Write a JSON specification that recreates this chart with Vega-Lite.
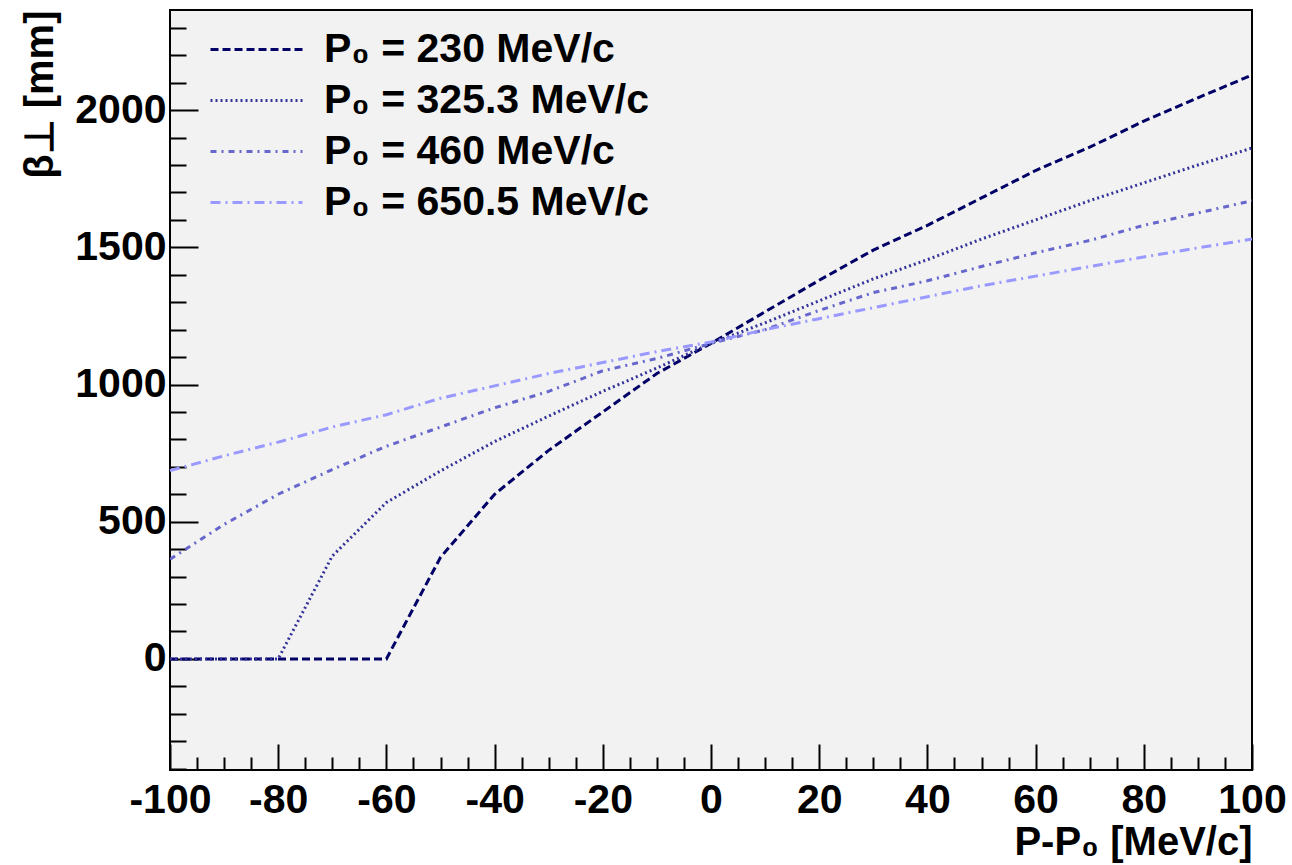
{
  "$schema": "https://vega.github.io/schema/vega-lite/v6.json",
  "autosize": {"type": "none"},
  "width": 1082,
  "height": 760,
  "padding": {"left": 170, "top": 10, "right": 40, "bottom": 95},
  "background": "white",
  "config": {
    "view": {"fill": "#f2f2f2", "stroke": "#000000", "strokeWidth": 2},
    "font": "Liberation Sans",
    "axis": {
      "domain": false, "grid": false,
      "tickColor": "#000000", "tickWidth": 2,
      "labelFont": "Liberation Sans", "labelFontWeight": "bold", "labelFontSize": 41, "labelColor": "#000000",
      "titleFont": "Liberation Sans", "titleFontWeight": "bold", "titleFontSize": 40, "titleColor": "#000000"
    },
    "legend": {
      "labelFont": "Liberation Sans", "labelFontWeight": "bold", "labelFontSize": 41, "labelColor": "#000000", "labelLimit": 0
    }
  },
  "data": {"values": [
    {"s": "P₀ = 230 MeV/c", "x": -100, "b": 0},
    {"s": "P₀ = 230 MeV/c", "x": -90, "b": 0},
    {"s": "P₀ = 230 MeV/c", "x": -80, "b": 0},
    {"s": "P₀ = 230 MeV/c", "x": -70, "b": 0},
    {"s": "P₀ = 230 MeV/c", "x": -60, "b": 0},
    {"s": "P₀ = 230 MeV/c", "x": -50, "b": 370},
    {"s": "P₀ = 230 MeV/c", "x": -40, "b": 600},
    {"s": "P₀ = 230 MeV/c", "x": -30, "b": 760},
    {"s": "P₀ = 230 MeV/c", "x": -20, "b": 900},
    {"s": "P₀ = 230 MeV/c", "x": -10, "b": 1040},
    {"s": "P₀ = 230 MeV/c", "x": 0, "b": 1150},
    {"s": "P₀ = 230 MeV/c", "x": 10, "b": 1265},
    {"s": "P₀ = 230 MeV/c", "x": 20, "b": 1380},
    {"s": "P₀ = 230 MeV/c", "x": 30, "b": 1490},
    {"s": "P₀ = 230 MeV/c", "x": 40, "b": 1580},
    {"s": "P₀ = 230 MeV/c", "x": 50, "b": 1680},
    {"s": "P₀ = 230 MeV/c", "x": 60, "b": 1780},
    {"s": "P₀ = 230 MeV/c", "x": 70, "b": 1865},
    {"s": "P₀ = 230 MeV/c", "x": 80, "b": 1960},
    {"s": "P₀ = 230 MeV/c", "x": 90, "b": 2045},
    {"s": "P₀ = 230 MeV/c", "x": 100, "b": 2128},
    {"s": "P₀ = 325.3 MeV/c", "x": -100, "b": 0},
    {"s": "P₀ = 325.3 MeV/c", "x": -90, "b": 0},
    {"s": "P₀ = 325.3 MeV/c", "x": -80, "b": 0},
    {"s": "P₀ = 325.3 MeV/c", "x": -70, "b": 375},
    {"s": "P₀ = 325.3 MeV/c", "x": -60, "b": 570},
    {"s": "P₀ = 325.3 MeV/c", "x": -50, "b": 685},
    {"s": "P₀ = 325.3 MeV/c", "x": -40, "b": 792},
    {"s": "P₀ = 325.3 MeV/c", "x": -30, "b": 885},
    {"s": "P₀ = 325.3 MeV/c", "x": -20, "b": 975},
    {"s": "P₀ = 325.3 MeV/c", "x": -10, "b": 1060},
    {"s": "P₀ = 325.3 MeV/c", "x": 0, "b": 1150},
    {"s": "P₀ = 325.3 MeV/c", "x": 10, "b": 1225},
    {"s": "P₀ = 325.3 MeV/c", "x": 20, "b": 1305},
    {"s": "P₀ = 325.3 MeV/c", "x": 30, "b": 1385},
    {"s": "P₀ = 325.3 MeV/c", "x": 40, "b": 1455},
    {"s": "P₀ = 325.3 MeV/c", "x": 50, "b": 1530},
    {"s": "P₀ = 325.3 MeV/c", "x": 60, "b": 1600},
    {"s": "P₀ = 325.3 MeV/c", "x": 70, "b": 1670},
    {"s": "P₀ = 325.3 MeV/c", "x": 80, "b": 1735},
    {"s": "P₀ = 325.3 MeV/c", "x": 90, "b": 1800},
    {"s": "P₀ = 325.3 MeV/c", "x": 100, "b": 1862},
    {"s": "P₀ = 460 MeV/c", "x": -100, "b": 363},
    {"s": "P₀ = 460 MeV/c", "x": -90, "b": 490},
    {"s": "P₀ = 460 MeV/c", "x": -80, "b": 600},
    {"s": "P₀ = 460 MeV/c", "x": -70, "b": 690},
    {"s": "P₀ = 460 MeV/c", "x": -60, "b": 775},
    {"s": "P₀ = 460 MeV/c", "x": -50, "b": 845},
    {"s": "P₀ = 460 MeV/c", "x": -40, "b": 915},
    {"s": "P₀ = 460 MeV/c", "x": -30, "b": 975},
    {"s": "P₀ = 460 MeV/c", "x": -20, "b": 1050},
    {"s": "P₀ = 460 MeV/c", "x": -10, "b": 1095},
    {"s": "P₀ = 460 MeV/c", "x": 0, "b": 1150},
    {"s": "P₀ = 460 MeV/c", "x": 10, "b": 1200},
    {"s": "P₀ = 460 MeV/c", "x": 20, "b": 1270},
    {"s": "P₀ = 460 MeV/c", "x": 30, "b": 1335},
    {"s": "P₀ = 460 MeV/c", "x": 40, "b": 1378},
    {"s": "P₀ = 460 MeV/c", "x": 50, "b": 1430},
    {"s": "P₀ = 460 MeV/c", "x": 60, "b": 1480},
    {"s": "P₀ = 460 MeV/c", "x": 70, "b": 1525},
    {"s": "P₀ = 460 MeV/c", "x": 80, "b": 1580},
    {"s": "P₀ = 460 MeV/c", "x": 90, "b": 1625},
    {"s": "P₀ = 460 MeV/c", "x": 100, "b": 1670},
    {"s": "P₀ = 650.5 MeV/c", "x": -100, "b": 686},
    {"s": "P₀ = 650.5 MeV/c", "x": -90, "b": 740},
    {"s": "P₀ = 650.5 MeV/c", "x": -80, "b": 790},
    {"s": "P₀ = 650.5 MeV/c", "x": -70, "b": 845},
    {"s": "P₀ = 650.5 MeV/c", "x": -60, "b": 890},
    {"s": "P₀ = 650.5 MeV/c", "x": -50, "b": 950},
    {"s": "P₀ = 650.5 MeV/c", "x": -40, "b": 995},
    {"s": "P₀ = 650.5 MeV/c", "x": -30, "b": 1040},
    {"s": "P₀ = 650.5 MeV/c", "x": -20, "b": 1080},
    {"s": "P₀ = 650.5 MeV/c", "x": -10, "b": 1120},
    {"s": "P₀ = 650.5 MeV/c", "x": 0, "b": 1155},
    {"s": "P₀ = 650.5 MeV/c", "x": 10, "b": 1200},
    {"s": "P₀ = 650.5 MeV/c", "x": 20, "b": 1240},
    {"s": "P₀ = 650.5 MeV/c", "x": 30, "b": 1280},
    {"s": "P₀ = 650.5 MeV/c", "x": 40, "b": 1320},
    {"s": "P₀ = 650.5 MeV/c", "x": 50, "b": 1360},
    {"s": "P₀ = 650.5 MeV/c", "x": 60, "b": 1395},
    {"s": "P₀ = 650.5 MeV/c", "x": 70, "b": 1430},
    {"s": "P₀ = 650.5 MeV/c", "x": 80, "b": 1465},
    {"s": "P₀ = 650.5 MeV/c", "x": 90, "b": 1498},
    {"s": "P₀ = 650.5 MeV/c", "x": 100, "b": 1530}
  ]},
  "resolve": {"axis": {"x": "independent", "y": "independent"}},
  "layer": [
    {
      "mark": {"type": "line", "strokeWidth": 3, "clip": true},
      "encoding": {
        "x": {"field": "x", "type": "quantitative",
          "scale": {"domain": [-100, 100], "nice": false, "zero": false},
          "axis": {"orient": "bottom", "values": [-100, -80, -60, -40, -20, 0, 20, 40, 60, 80, 100],
            "labelExpr": "'' + datum.value",
            "tickSize": -26, "labelPadding": 36, "labelFlush": false, "labelBound": false, "labelOverlap": false,
            "title": "P-P₀ [MeV/c]", "titleAnchor": "end", "titleAlign": "right", "titleX": 1082, "titleY": 84, "titleBaseline": "alphabetic"}},
        "y": {"field": "b", "type": "quantitative",
          "scale": {"domain": [-405, 2365], "nice": false, "zero": false},
          "axis": {"orient": "left", "values": [0, 500, 1000, 1500, 2000],
            "labelExpr": "'' + datum.value",
            "tickSize": -28, "labelPadding": 32, "labelOverlap": false, "labelBound": false,
            "title": "β⊥ [mm]", "titleAngle": -90, "titleAlign": "right", "titleBaseline": "middle", "titleX": -130, "titleY": 0}},
        "color": {"field": "s", "type": "nominal",
          "scale": {"domain": ["P₀ = 230 MeV/c", "P₀ = 325.3 MeV/c", "P₀ = 460 MeV/c", "P₀ = 650.5 MeV/c"],
            "range": ["#000066", "#333399", "#6666cc", "#9999ff"]},
          "legend": {"orient": "none", "legendX": 66, "legendY": 19, "title": null, "padding": 0,
            "symbolType": "M-4,0H4", "symbolSize": 529, "symbolStrokeWidth": 3, "labelOffset": 47, "rowPadding": 9, "labelLimit": 0}},
        "strokeDash": {"field": "s", "type": "nominal",
          "scale": {"domain": ["P₀ = 230 MeV/c", "P₀ = 325.3 MeV/c", "P₀ = 460 MeV/c", "P₀ = 650.5 MeV/c"],
            "range": [[8, 4], [2, 3], [6, 5, 2, 5], [10, 5, 2, 5]]},
          "legend": {"orient": "none", "legendX": 66, "legendY": 19, "title": null, "padding": 0,
            "symbolType": "M-4,0H4", "symbolSize": 529, "symbolStrokeWidth": 3, "labelOffset": 47, "rowPadding": 9, "labelLimit": 0}}
      }
    },
    {
      "mark": {"type": "line", "strokeOpacity": 0},
      "encoding": {
        "detail": {"field": "s"},
        "x": {"field": "x", "type": "quantitative",
          "scale": {"domain": [-100, 100], "nice": false, "zero": false},
          "axis": {"orient": "bottom", "values": [-95, -90, -85, -75, -70, -65, -55, -50, -45, -35, -30, -25, -15, -10, -5, 5, 10, 15, 25, 30, 35, 45, 50, 55, 65, 70, 75, 85, 90, 95],
            "tickSize": -13, "labels": false, "title": null}},
        "y": {"field": "b", "type": "quantitative",
          "scale": {"domain": [-405, 2365], "nice": false, "zero": false},
          "axis": {"orient": "left", "values": [-400, -300, -200, -100, 100, 200, 300, 400, 600, 700, 800, 900, 1100, 1200, 1300, 1400, 1600, 1700, 1800, 1900, 2100, 2200, 2300],
            "tickSize": -16, "labels": false, "title": null}}
      }
    }
  ]
}
